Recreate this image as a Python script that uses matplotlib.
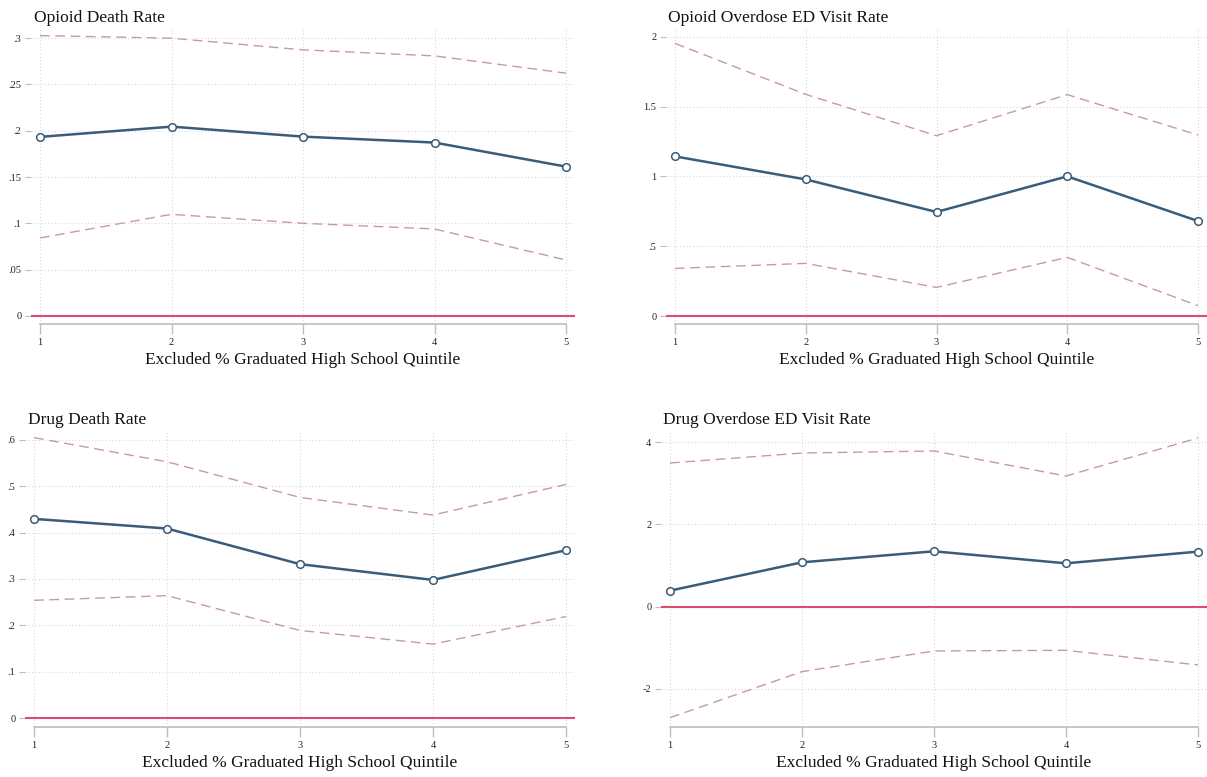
import matplotlib
matplotlib.use("Agg")
import matplotlib.pyplot as plt
from matplotlib.ticker import FuncFormatter

quintiles = [1, 2, 3, 4, 5]

titles = ["Opioid Death Rate", "Opioid Overdose ED Visit Rate",
          "Drug Death Rate", "Drug Overdose ED Visit Rate"]
xlabel = "Excluded % Graduated High School Quintile"

est_opioid_death = [0.1934, 0.2045, 0.1937, 0.1873, 0.1613]
hi_opioid_death = [0.3028, 0.3000, 0.2874, 0.2809, 0.2622]
lo_opioid_death = [0.0843, 0.1098, 0.1001, 0.0940, 0.0605]

est_opioid_ed = [1.143, 0.978, 0.745, 1.000, 0.680]
hi_opioid_ed = [1.952, 1.587, 1.291, 1.585, 1.296]
lo_opioid_ed = [0.341, 0.377, 0.205, 0.420, 0.074]

est_drug_death = [0.4297, 0.4089, 0.3320, 0.2980, 0.3620]
hi_drug_death = [0.605, 0.553, 0.476, 0.438, 0.504]
lo_drug_death = [0.254, 0.264, 0.189, 0.1595, 0.219]

est_drug_ed = [0.389, 1.079, 1.347, 1.055, 1.339]
hi_drug_ed = [3.497, 3.740, 3.789, 3.180, 4.105]
lo_drug_ed = [-2.702, -1.582, -1.079, -1.063, -1.420]

yticks_opioid_death = [0, 0.05, 0.1, 0.15, 0.2, 0.25, 0.3]
yticks_opioid_ed = [0, 0.5, 1, 1.5, 2]
yticks_drug_death = [0, 0.1, 0.2, 0.3, 0.4, 0.5, 0.6]
yticks_drug_ed = [-2, 0, 2, 4]

W, H = 1207, 777
fig = plt.figure(figsize=(W / 100, H / 100), dpi=100)
plt.rcParams['font.family'] = ['Liberation Serif', 'DejaVu Serif']

# pixel boxes: left, right, top, bottom ; ylims
panels = [
    dict(box=(31, 575, 28, 324), ylim=(-0.00864, 0.311), yt=yticks_opioid_death,
         est=est_opioid_death, hi=hi_opioid_death, lo=lo_opioid_death, title=titles[0]),
    dict(box=(666, 1207, 28, 324), ylim=(-0.057, 2.062), yt=yticks_opioid_ed,
         est=est_opioid_ed, hi=hi_opioid_ed, lo=lo_opioid_ed, title=titles[1]),
    dict(box=(25, 575, 430, 727), ylim=(-0.0194, 0.6215), yt=yticks_drug_death,
         est=est_drug_death, hi=hi_drug_death, lo=lo_drug_death, title=titles[2]),
    dict(box=(661, 1207, 430, 727), ylim=(-2.93, 4.30), yt=yticks_drug_ed,
         est=est_drug_ed, hi=hi_drug_ed, lo=lo_drug_ed, title=titles[3]),
]

def fmt(v, pos):
    if abs(v) < 1e-12:
        return "0"
    s = ("%g" % v)
    if s.startswith("0."):
        s = s[1:]
    elif s.startswith("-0."):
        s = "-" + s[2:]
    return s

main_c = "#3b5c78"
ci_c = "#c59d98"
red_c = "#dc4b72"
grid_c = "#d8d8d8"
axis_c = "#bdbdbd"

for p in panels:
    l, r, t, b = p["box"]
    ax = fig.add_axes([l / W, 1 - b / H, (r - l) / W, (b - t) / H])
    ax.set_xlim(1 - 9 / 131.5, 5 + 9 / 131.5)
    ax.set_ylim(*p["ylim"])
    ax.set_xticks(quintiles)
    ax.set_yticks(p["yt"])
    ax.yaxis.set_major_formatter(FuncFormatter(fmt))
    ax.grid(True, color=grid_c, linestyle=(0, (1, 2)), linewidth=0.8)
    ax.set_axisbelow(True)
    for s in ["top", "right", "left"]:
        ax.spines[s].set_visible(False)
    ax.spines["bottom"].set_bounds(1, 5)
    ax.spines["bottom"].set_color(axis_c)
    ax.spines["bottom"].set_linewidth(1.2)
    ax.tick_params(axis="x", colors=axis_c, labelcolor="#222222", labelsize=7.5,
                   length=7, width=1.0, pad=3)
    ax.tick_params(axis="y", colors=axis_c, labelcolor="#222222", labelsize=7.5,
                   length=4, width=0.8, pad=3)
    ax.axhline(0, color=red_c, linewidth=1.5, zorder=2)
    ax.plot(quintiles, p["hi"], color=ci_c, linewidth=1.0, dashes=(7, 4), zorder=3)
    ax.plot(quintiles, p["lo"], color=ci_c, linewidth=1.0, dashes=(7, 4), zorder=3)
    ax.plot(quintiles, p["est"], color=main_c, linewidth=1.8, marker="o",
            markersize=5.5, markerfacecolor="white", markeredgecolor=main_c,
            markeredgewidth=1.1, zorder=4, clip_on=False)
    ax.set_xlabel(xlabel, fontsize=12.5, color="#111111", labelpad=4)
    ax.set_title(p["title"], fontsize=12.5, loc="left", color="#111111", pad=4,
                 x=2.5 / (r - l))

fig.savefig("out.png", dpi=100)
